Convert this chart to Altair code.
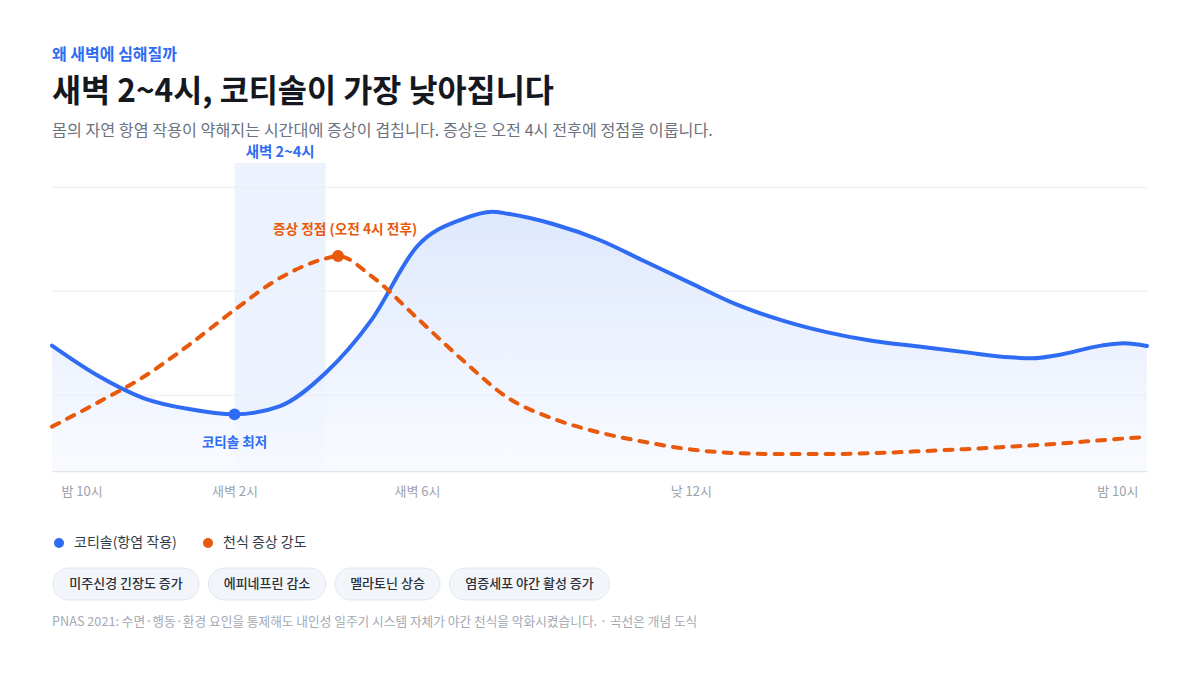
import altair as alt
import pandas as pd

# ---------------- data ----------------
series_names = ["코티솔(항염 작용)", "천식 증상 강도"]

cortisol_hours = [0, 1, 2, 3, 4, 5, 6, 7, 8, 9, 9.65, 10, 11, 12, 13, 14, 15, 16,
                  17, 18, 19, 20, 21, 21.5, 22, 23, 23.5, 24]
cortisol_vals = [40.7, 31.0, 23.7, 20.1, 18.4, 21.1, 31.9, 49.0, 72.9, 81.8, 84.2, 83.5,
                 80.1, 75.0, 68.0, 61.0, 54.1, 48.9, 45.0, 42.2, 40.4, 38.6, 36.9, 36.6,
                 37.5, 40.7, 41.5, 40.6]

symptom_hours = [0, 1, 2, 3, 4, 5, 6, 6.27, 7, 8, 9, 10, 11, 12, 13, 14, 15, 16, 17,
                 18, 19, 20, 21, 22, 23, 24]
symptom_vals = [14.4, 22.2, 30.5, 40.9, 52.3, 62.7, 69.0, 69.8, 63.3, 49.7, 36.0, 23.7,
                16.9, 12.5, 9.4, 7.0, 5.8, 5.5, 5.5, 5.8, 6.4, 7.1, 7.9, 8.8, 10.0, 11.1]

key_hours = [4, 6.27]
key_vals = [18.4, 69.8]
key_labels = ["코티솔 최저", "증상 정점 (오전 4시 전후)"]

band_start, band_end = 4, 6
band_label = "새벽 2~4시"

grid_vals = [24.6, 58.4, 92.1]

tick_hours = [0, 4, 8, 14, 24]
tick_labels = ["밤 10시", "새벽 2시", "새벽 6시", "낮 12시", "밤 10시"]

pill_labels = ["미주신경 긴장도 증가", "에피네프린 감소", "멜라토닌 상승", "염증세포 야간 활성 증가"]

kicker = "왜 새벽에 심해질까"
title = "새벽 2~4시, 코티솔이 가장 낮아집니다"
subtitle = "몸의 자연 항염 작용이 약해지는 시간대에 증상이 겹칩니다. 증상은 오전 4시 전후에 정점을 이룹니다."
footnote = "PNAS 2021: 수면·행동·환경 요인을 통제해도 내인성 일주기 시스템 자체가 야간 천식을 악화시켰습니다. · 곡선은 개념 도식"

# ---------------- style / layout ----------------
FONT = "Noto Sans CJK KR"
BLUE = "#2f6cf3"
ORANGE = "#e8590c"
W, H = 1095, 308
PILL_X0 = [1, 156.5, 283, 397.5]
PILL_X1 = [147, 273.5, 388, 557.5]

cort_df = pd.DataFrame({"h": cortisol_hours, "v": cortisol_vals})
sym_df = pd.DataFrame({"h": symptom_hours, "v": symptom_vals})
key_df = pd.DataFrame({"h": key_hours, "v": key_vals, "series": series_names, "label": key_labels})
band_df = pd.DataFrame({"a": [band_start], "b": [band_end], "top": [100], "bot": [0],
                        "m": [(band_start + band_end) / 2], "label": [band_label]})
grid_df = pd.DataFrame({"g": grid_vals})
zero_df = pd.DataFrame({"h": cortisol_hours, "v": cortisol_vals, "z": [0] * len(cortisol_hours)})

xs = alt.Scale(domain=[0, 24], nice=False, zero=False)
ys = alt.Scale(domain=[0, 100], nice=False)

label_expr = " : ".join(f"datum.value == {h} ? '{l}'" for h, l in zip(tick_hours, tick_labels)) + " : ''"

x_axis = alt.Axis(values=tick_hours, labelExpr=label_expr, title=None, grid=False, ticks=False,
                  domainColor="#dfe3ea", domainWidth=1.5, labelColor="#9aa1ad", labelFontSize=13,
                  labelFont=FONT, labelPadding=14, labelFlush=True, labelFlushOffset=-9)

band = alt.Chart(band_df).mark_rect(color="#eaf1fe", opacity=0.85).encode(
    x=alt.X("a:Q", scale=xs, axis=x_axis), x2="b:Q",
    y=alt.Y("top:Q", scale=ys, axis=None), y2="bot:Q")

band_text = alt.Chart(band_df).mark_text(
    font=FONT, fontSize=14.5, fontWeight="bold", color=BLUE, baseline="middle", dy=-10).encode(
    x=alt.X("m:Q"), y=alt.Y("top:Q"), text="label:N")

area = alt.Chart(zero_df).mark_area(
    interpolate="monotone",
    color=alt.Gradient(gradient="linear",
                       stops=[alt.GradientStop(color="#d9e5fd", offset=0),
                              alt.GradientStop(color="#f8faff", offset=1)],
                       x1=1, x2=1, y1=0, y2=1),
    opacity=0.85).encode(
    x=alt.X("h:Q"), y=alt.Y("v:Q"), y2="z:Q")

grid = alt.Chart(grid_df).mark_rule(color="#e9ecf2", strokeWidth=1).encode(
    y=alt.Y("g:Q"), x=alt.value(0), x2=alt.value(W))

cort_line = alt.Chart(cort_df).mark_line(interpolate="monotone", color=BLUE, strokeWidth=4,
                                         strokeCap="round").encode(
    x=alt.X("h:Q"), y=alt.Y("v:Q"))

sym_line = alt.Chart(sym_df).mark_line(interpolate="monotone", color=ORANGE, strokeWidth=4,
                                       strokeDash=[8, 9], strokeCap="round").encode(
    x=alt.X("h:Q"), y=alt.Y("v:Q"))

points = alt.Chart(key_df).mark_circle(size=140, opacity=1).encode(
    x=alt.X("h:Q"), y=alt.Y("v:Q"),
    color=alt.Color("series:N",
                    scale=alt.Scale(domain=series_names, range=[BLUE, ORANGE]),
                    legend=alt.Legend(orient="none", legendX=0, legendY=373, direction="horizontal",
                                      title=None, symbolType="circle", symbolSize=100,
                                      symbolStrokeWidth=0, labelFont=FONT, labelFontSize=14,
                                      labelColor="#333a45", labelOffset=8, columnPadding=24,
                                      padding=0)))

low_text = alt.Chart(key_df).transform_filter(alt.datum.series == series_names[0]).mark_text(
    font=FONT, fontSize=13.5, fontWeight="bold", color=BLUE, baseline="middle", dy=29).encode(
    x=alt.X("h:Q"), y=alt.Y("v:Q"), text="label:N")

peak_text = alt.Chart(key_df).transform_filter(alt.datum.series == series_names[1]).mark_text(
    font=FONT, fontSize=13.7, fontWeight="bold", color=ORANGE, baseline="middle", dy=-26, dx=7).encode(
    x=alt.X("h:Q"), y=alt.Y("v:Q"), text="label:N")


def free_text(txt, x, y, size, color, weight="normal", align="left"):
    return alt.Chart(pd.DataFrame({"t": [txt]})).mark_text(
        font=FONT, fontSize=size, fontWeight=weight, color=color, align=align,
        baseline="middle").encode(x=alt.value(x), y=alt.value(y), text="t:N")


kicker_t = free_text(kicker, 0, -108, 16, BLUE, "bold")
title_t = free_text(title, 0, -70, 31.6, "#15181e", "bold")
sub_t = free_text(subtitle, 0, -32, 16.2, "#6b7280")
foot_t = free_text(footnote, 0, 459, 12.7, "#a3a9b4")

pill_layers = []
for lab, a, b in zip(pill_labels, PILL_X0, PILL_X1):
    pill_layers.append(
        alt.Chart(pd.DataFrame({"t": [lab]})).mark_rect(
            fill="#f2f5f9", stroke="#e3e7ee", strokeWidth=1, cornerRadius=16).encode(
            x=alt.value(a), x2=alt.value(b), y=alt.value(405), y2=alt.value(437)))
    pill_layers.append(free_text(lab, (a + b) / 2, 421, 13, "#2b303a", 500, "center"))

chart = alt.layer(
    band, area, grid, band_text, cort_line, sym_line, points, low_text, peak_text,
    kicker_t, title_t, sub_t, foot_t, *pill_layers
).properties(
    width=W, height=H,
    autosize=alt.AutoSizeParams(type="none"),
    padding={"left": 44, "top": 155, "right": 45, "bottom": 196},
    background="white",
).configure_view(stroke=None)

chart.save("out.html", embed_options={"renderer": "svg", "actions": False})
